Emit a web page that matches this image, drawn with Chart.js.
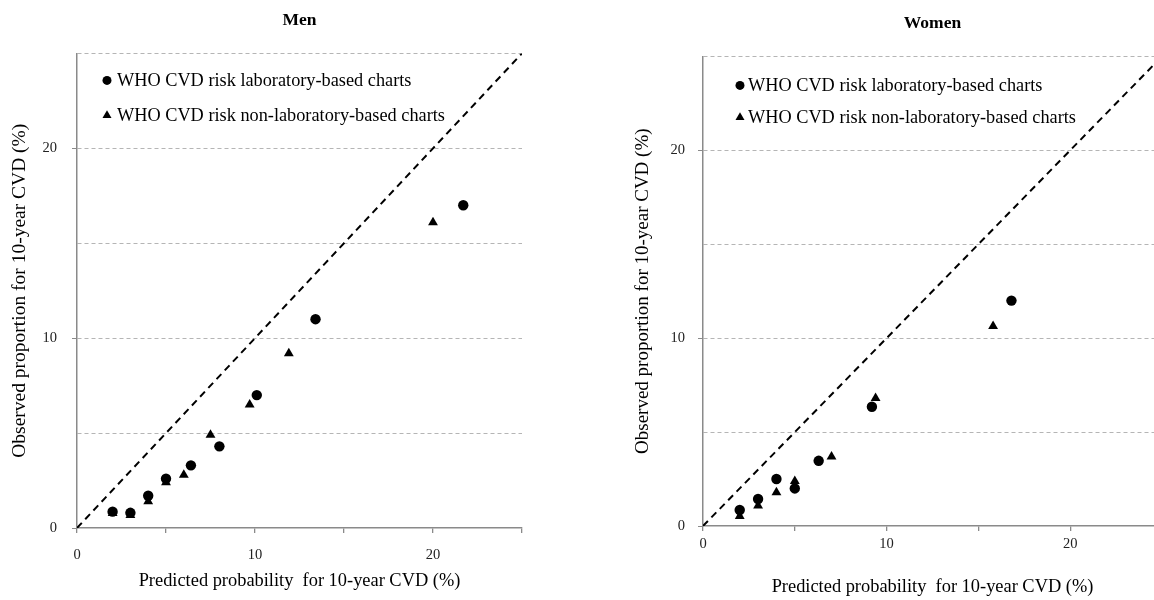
<!DOCTYPE html>
<html><head><meta charset="utf-8">
<script src="https://cdn.jsdelivr.net/npm/chart.js@4/dist/chart.umd.min.js"></script>
<style>
html,body{margin:0;padding:0;background:#fff;overflow:hidden;}
#wrap{position:relative;width:1154px;height:600px;overflow:hidden;background:#fff;}
#c1{position:absolute;left:0;top:0;}
#c2{position:absolute;left:600px;top:0;}
</style></head><body>
<div id="wrap">
<canvas id="c1" width="580" height="600"></canvas>
<canvas id="c2" width="580" height="600"></canvas>
</div>
<script>
// ---- data ----
const panelTitles = ['Men', 'Women'];
const seriesNames = ['WHO CVD risk laboratory-based charts', 'WHO CVD risk non-laboratory-based charts'];
const xTitle = 'Predicted probability  for 10-year CVD (%)';
const yTitle = 'Observed proportion for 10-year CVD (%)';
const labeledTicks = [0, 10, 20];
const axisMin = 0;
const axisMax = 25;
const axisStep = 5;
const identityLine = [0, 25];

const menLabPredicted = [2.0, 3.0, 4.0, 5.0, 6.4, 8.0, 10.1, 13.4, 21.7];
const menLabObserved = [0.86, 0.8, 1.7, 2.6, 3.3, 4.3, 7.0, 11.0, 17.0];
const menNonLabPredicted = [2.0, 3.0, 4.0, 5.0, 6.0, 7.5, 9.7, 11.9, 20.0];
const menNonLabObserved = [0.78, 0.68, 1.4, 2.4, 2.8, 4.9, 6.5, 9.2, 16.1];

const womenLabPredicted = [2.0, 3.0, 4.0, 5.0, 6.3, 9.2, 16.8];
const womenLabObserved = [0.85, 1.44, 2.5, 2.0, 3.47, 6.35, 12.0];
const womenNonLabPredicted = [2.0, 3.0, 4.0, 5.0, 7.0, 9.4, 15.8];
const womenNonLabObserved = [0.53, 1.08, 1.79, 2.39, 3.69, 6.8, 10.64];

// ---- helpers ----
const SERIF = '"Liberation Serif", "Times New Roman", serif';
const AXIS_COLOR = '#8a8a8a';
const GRID_COLOR = '#b5b5b5';

function pts(xs, ys) { return xs.map((x, i) => ({x: x, y: ys[i]})); }

const insideLegend = {
  id: 'insideLegend',
  afterDraw(chart, args, opts) {
    const {ctx, chartArea} = chart;
    ctx.save();
    ctx.font = opts.fontSize + 'px ' + SERIF;
    ctx.fillStyle = '#000';
    ctx.textBaseline = 'middle';
    ctx.textAlign = 'left';
    opts.items.forEach((it, i) => {
      const cx = chartArea.left + opts.x;
      const cy = chartArea.top + opts.y + i * opts.rowGap;
      ctx.beginPath();
      if (it.style === 'circle') {
        ctx.arc(cx, cy, opts.circleR, 0, Math.PI * 2);
      } else {
        const r = opts.triR;
        ctx.moveTo(cx, cy - r);
        ctx.lineTo(cx + r * Math.cos(Math.PI / 6), cy + r / 2);
        ctx.lineTo(cx - r * Math.cos(Math.PI / 6), cy + r / 2);
        ctx.closePath();
      }
      ctx.fill();
      ctx.fillText(it.text, cx + opts.textGap, cy + 1);
    });
    ctx.restore();
  }
};

function makeChart(canvasId, p) {
  return new Chart(document.getElementById(canvasId), {
    type: 'scatter',
    data: {
      datasets: [
        {
          type: 'line',
          label: 'identity',
          data: pts(identityLine, identityLine),
          borderColor: '#000',
          borderWidth: 2,
          borderDash: [7, 5],
          pointRadius: 0,
          fill: false,
          order: 3
        },
        {
          label: seriesNames[0],
          data: pts(p.labX, p.labY),
          pointStyle: 'circle',
          pointRadius: 5.2,
          backgroundColor: '#000',
          borderColor: '#000',
          borderWidth: 0,
          order: 2
        },
        {
          label: seriesNames[1],
          data: pts(p.nonX, p.nonY),
          pointStyle: 'triangle',
          pointRadius: 5.7,
          backgroundColor: '#000',
          borderColor: '#000',
          borderWidth: 0,
          order: 1
        }
      ]
    },
    options: {
      responsive: false,
      animation: false,
      events: [],
      layout: { padding: { left: 0, top: 0, right: p.padRight, bottom: 0 } },
      plugins: {
        legend: { display: false },
        tooltip: { enabled: false },
        title: {
          display: true,
          text: p.title,
          fullSize: false,
          color: '#000',
          font: { family: SERIF, size: 17.5, weight: 'bold', lineHeight: 1.2 },
          padding: { top: p.titleTop, bottom: p.titleBottom }
        },
        insideLegend: {
          items: [
            { style: 'circle', text: seriesNames[0] },
            { style: 'triangle', text: seriesNames[1] }
          ],
          x: p.legX, y: p.legY, rowGap: p.legGap, textGap: p.legTextGap,
          fontSize: 18.3, circleR: 4.5, triR: 5.2
        }
      },
      scales: {
        x: {
          type: 'linear',
          min: axisMin, max: axisMax,
          afterFit(scale) { scale.height = p.xAxisH; },
          ticks: {
            stepSize: axisStep,
            autoSkip: false,
            maxRotation: 0,
            padding: p.xTickPad,
            color: '#222',
            font: { family: SERIF, size: 14.5 },
            callback: (v) => labeledTicks.includes(v) ? String(v) : ''
          },
          grid: {
            drawOnChartArea: false,
            drawTicks: true,
            tickLength: 5,
            tickColor: AXIS_COLOR,
            lineWidth: 1.3
          },
          border: { display: true, color: AXIS_COLOR, width: 1.5 },
          title: {
            display: true,
            text: xTitle,
            color: '#000',
            font: { family: SERIF, size: 18.4, lineHeight: 1.2 },
            padding: { top: 0, bottom: p.xTitlePad }
          }
        },
        y: {
          type: 'linear',
          min: axisMin, max: axisMax,
          afterFit(scale) { scale.width = p.yAxisW; },
          ticks: {
            stepSize: axisStep,
            autoSkip: false,
            padding: p.yTickPad,
            color: '#222',
            font: { family: SERIF, size: 14.5 },
            callback: (v) => labeledTicks.includes(v) ? String(v) : ''
          },
          grid: {
            drawOnChartArea: true,
            drawTicks: true,
            tickLength: 5,
            lineWidth: 1,
            color: (c) => (c.tick && c.tick.value === 0) ? 'rgba(0,0,0,0)' : GRID_COLOR,
            tickColor: (c) => (c.tick && labeledTicks.includes(c.tick.value)) ? AXIS_COLOR : 'rgba(0,0,0,0)'
          },
          border: { display: true, color: AXIS_COLOR, width: 1.5, dash: [4, 3] },
          title: {
            display: true,
            text: yTitle,
            color: '#000',
            font: { family: SERIF, size: p.yTitleSize, lineHeight: 1.2 },
            padding: { top: p.yTitlePad, bottom: 0 }
          }
        }
      }
    },
    plugins: [insideLegend]
  });
}

makeChart('c1', {
  title: panelTitles[0],
  labX: menLabPredicted, labY: menLabObserved,
  nonX: menNonLabPredicted, nonY: menNonLabObserved,
  padRight: 58, titleTop: 10, titleBottom: 22.4,
  xAxisH: 72, yAxisW: 77,
  xTickPad: 13, yTickPad: 15,
  xTitlePad: 8, yTitlePad: 8, yTitleSize: 19.5,
  legX: 30, legY: 27, legGap: 35, legTextGap: 10
});

makeChart('c2', {
  title: panelTitles[1],
  labX: womenLabPredicted, labY: womenLabObserved,
  nonX: womenNonLabPredicted, nonY: womenNonLabObserved,
  padRight: 18, titleTop: 13, titleBottom: 22.4,
  xAxisH: 74, yAxisW: 103,
  xTickPad: 4, yTickPad: 13,
  xTitlePad: 2, yTitlePad: 32, yTitleSize: 19,
  legX: 37, legY: 29, legGap: 32, legTextGap: 8
});
</script>
</body></html>
